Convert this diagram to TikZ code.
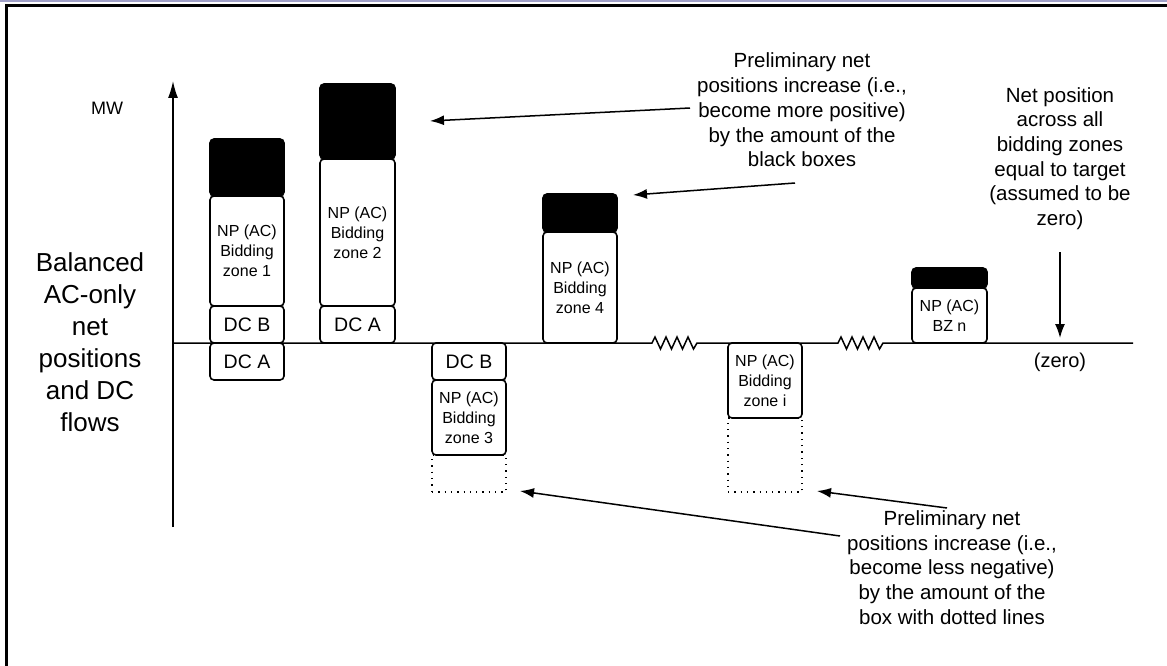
\documentclass[tikz,border=0pt]{standalone}
\usepackage{fontspec}
\setmainfont{Liberation Sans}
\usetikzlibrary{arrows.meta}
\begin{document}
\begin{tikzpicture}[x=1pt,y=-1pt,
  npbox/.style={draw, line width=1.6pt, rounded corners=4pt, fill=white, inner sep=0pt,
    align=center, minimum width=74pt, font=\fontsize{16}{20}\selectfont},
  dcbox/.style={npbox, minimum height=37pt, font=\fontsize{19.5}{22}\selectfont},
  blackbox/.style={draw, fill=black, line width=1.6pt, rounded corners=4pt, inner sep=0pt, minimum width=74pt},
  dotbox/.style={draw, line width=1.2pt, dash pattern=on 1.3pt off 5pt, inner sep=0pt, minimum width=74pt},
  note/.style={align=center, inner sep=0pt, font=\fontsize{20.5}{24.7}\selectfont},
  pointer/.style={line width=1.5pt, -{Latex[length=14pt,width=10pt]}},
  axis/.style={line width=1.5pt}
]
\useasboundingbox (0,0) rectangle (1167,666);

% page frame
\draw[line width=2pt, draw={rgb,255:red,160;green,160;blue,200}] (0,1) -- (1167,1);
\draw[line width=2.2pt] (6.5,666) -- (6.5,5.5) -- (1167,5.5);

% axes
\coordinate (ybot) at (173,527);
\coordinate (ytop) at (173,81);
\coordinate (origin) at (173,343);
\coordinate (xend) at (1133,343);
\draw[axis, -{Latex[length=17pt,width=10pt]}] (ybot) -- (ytop);
\draw[axis] (origin) -- (652,343)
  -- (655,337) -- (660.5,349) -- (666,337) -- (671.5,349) -- (677,337)
  -- (682.5,349) -- (688,337) -- (693.5,349) -- (697,343)
  -- (838,343)
  -- (841,337) -- (846.5,349) -- (852,337) -- (857.5,349) -- (863,337)
  -- (868.5,349) -- (874,337) -- (879.5,349) -- (883,343)
  -- (xend);

\node (mw) at (107,108) {\fontsize{18}{22}\selectfont MW};
\node[align=center, inner sep=0pt, font=\fontsize{26}{32}\selectfont] (ylabel) at (90,342)
  {Balanced\\AC-only\\net\\positions\\and DC\\flows};
\node[inner sep=0pt, font=\fontsize{20}{24}\selectfont] (zero) at (1060,362) {(zero)};

% bidding zone 1
\node[blackbox, minimum height=57pt] (bk1) at (247,167.5) {};
\node[npbox, minimum height=110pt] (np1) at (247,251) {NP (AC)\\Bidding\\zone 1};
\node[dcbox] (dcb1) at (247,324.5) {DC B};
\node[dcbox] (dca1) at (247,361.5) {DC A};

% bidding zone 2
\node[blackbox, minimum width=75pt, minimum height=75pt] (bk2) at (357.5,121.5) {};
\node[npbox, minimum width=75pt, minimum height=147pt] (np2) at (357.5,232.5) {NP (AC)\\Bidding\\zone 2};
\node[dcbox, minimum width=75pt] (dca2) at (357.5,324.5) {DC A};

% bidding zone 3
\node[dotbox, minimum height=37pt] (dot3) at (469,473.5) {};
\node[dcbox] (dcb3) at (469,361.5) {DC B};
\node[npbox, minimum height=75pt] (np3) at (469,417.5) {NP (AC)\\Bidding\\zone 3};

% bidding zone 4
\node[blackbox, minimum height=38pt] (bk4) at (580,213) {};
\node[npbox, minimum height=111pt] (np4) at (580,287.5) {NP (AC)\\Bidding\\zone 4};

% bidding zone i
\node[dotbox, minimum height=74pt] (doti) at (765,455) {};
\node[npbox, minimum height=75pt] (npi) at (765,380.5) {NP (AC)\\Bidding\\zone i};

% bidding zone n
\node[blackbox, minimum width=75pt, minimum height=20pt] (bkn) at (949.5,278) {};
\node[npbox, minimum width=75pt, minimum height=55pt] (npn) at (949.5,315.5) {NP (AC)\\BZ n};

% annotations
\node[note] (uptext) at (802,110)
  {Preliminary net\\positions increase (i.e.,\\become more positive)\\by the amount of the\\black boxes};
\node[note] (nettext) at (1060,158.5)
  {Net position\\across all\\bidding zones\\equal to target\\(assumed to be\\zero)};
\node[note] (downtext) at (952,567.5)
  {Preliminary net\\positions increase (i.e.,\\become less negative)\\by the amount of the\\box with dotted lines};

\coordinate (ua) at (690,108);
\coordinate (ua2) at (430,121);
\coordinate (ub) at (795,183);
\coordinate (ub2) at (633,195);
\coordinate (na) at (1060,252);
\coordinate (na2) at (1060,338);
\coordinate (da) at (840,536);
\coordinate (da2) at (520,491);
\coordinate (db) at (947,508);
\coordinate (db2) at (817,491);

\draw[pointer] (ua) -- (ua2);
\draw[pointer] (ub) -- (ub2);
\draw[pointer] (na) -- (na2);
\draw[pointer] (da) -- (da2);
\draw[pointer] (db) -- (db2);
\end{tikzpicture}
\end{document}
